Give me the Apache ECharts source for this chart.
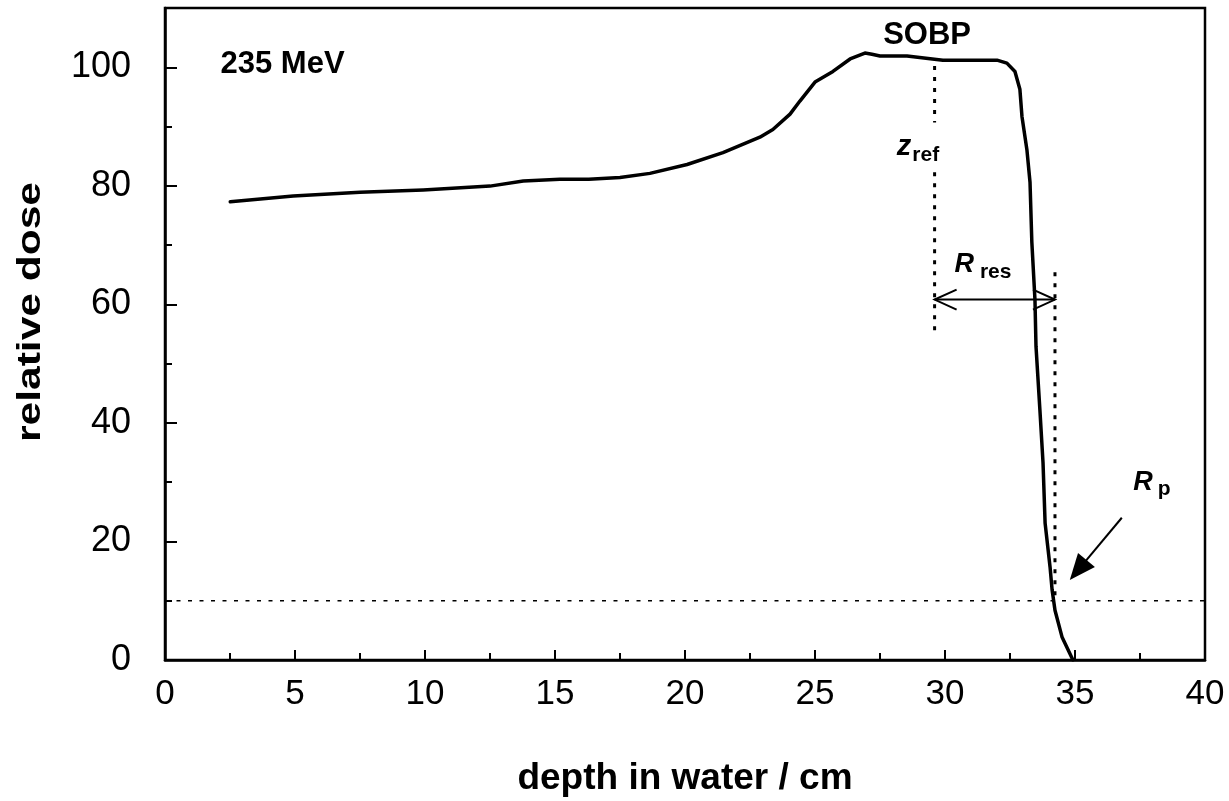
<!DOCTYPE html>
<html>
<head>
<meta charset="utf-8">
<script src="https://cdn.jsdelivr.net/npm/echarts@6/dist/echarts.min.js"></script>
<style>
html,body{margin:0;padding:0;background:#fff;}
#chart{width:1229px;height:801px;}
</style>
</head>
<body>
<div id="chart"></div>
<script>
// depth-dose curve (depth in cm, relative dose)
const depth = [2.51, 4.93, 7.5, 9.93, 12.5, 13.78, 15.19, 16.3, 17.5, 18.65, 20.08, 21.46, 22.88, 23.38, 24.04, 24.42, 25.0, 25.69, 26.35, 26.92, 27.19, 27.5, 28.54, 29.92, 32.0, 32.38, 32.69, 32.88, 32.96, 33.15, 33.27, 33.34, 33.46, 33.5, 33.65, 33.77, 33.85, 34.04, 34.12, 34.23, 34.5, 34.92];
const dose = [77.3, 78.3, 78.9, 79.3, 79.95, 80.8, 81.1, 81.1, 81.4, 82.1, 83.6, 85.6, 88.2, 89.5, 92.1, 94.3, 97.5, 99.3, 101.4, 102.4, 102.2, 101.9, 101.9, 101.2, 101.2, 100.7, 99.3, 96.3, 91.7, 86.1, 80.6, 70.5, 60.8, 52.9, 42.2, 33.3, 23.1, 15.7, 11.8, 8.4, 3.9, 0];

// reference lines (data coordinates)
const threshold = [[0, 10], [40, 10]];
const zrefUpper = [[29.6, 100.2], [29.6, 90.7]];
const zrefLower = [[29.6, 82.3], [29.6, 55.2]];
const rpDrop = [[34.23, 65.4], [34.23, 10]];
// arrows: x1, y1, x2, y2, kind (0 = double open, 1 = single filled)
const arrows = [[29.6, 60.8, 34.23, 60.8, 0], [36.8, 24.0, 34.8, 13.5, 1]];
// text annotations: x, y, rich text
const labelX = [4.52, 29.31, 28.96, 31.46, 37.96];
const labelY = [100.4, 105.4, 86.6, 66.8, 30.0];
const labelText = ['{b|235 MeV}', '{b|SOBP}', '{i|z}{s|ref}', '{I|R}{s2|res}', '{I|R}{s3|p}'];

const FONT = '"Liberation Sans", Arial, Helvetica, sans-serif';

const chart = echarts.init(document.getElementById('chart'), null, {renderer: 'canvas'});

const curve = depth.map((d, i) => [d, dose[i]]);
const labelData = labelX.map((x, i) => ({value: [x, labelY[i]], label: {formatter: labelText[i]}}));

function renderArrow(params, api) {
  const p1 = api.coord([api.value(0), api.value(1)]);
  const p2 = api.coord([api.value(2), api.value(3)]);
  const kind = api.value(4);
  const dx = p2[0] - p1[0], dy = p2[1] - p1[1];
  const len = Math.sqrt(dx * dx + dy * dy);
  const ux = dx / len, uy = dy / len;
  function head(tip, dirx, diry, L, W) {
    const bx = tip[0] - dirx * L, by = tip[1] - diry * L;
    return [[bx - diry * W, by + dirx * W], [tip[0], tip[1]], [bx + diry * W, by - dirx * W]];
  }
  const children = [];
  if (kind === 0) {
    children.push({type: 'line', shape: {x1: p1[0], y1: p1[1], x2: p2[0], y2: p2[1]}, style: {stroke: '#000', lineWidth: 2}});
    children.push({type: 'polyline', shape: {points: head(p2, ux, uy, 22, 10)}, style: {stroke: '#000', lineWidth: 2, fill: null}});
    children.push({type: 'polyline', shape: {points: head(p1, -ux, -uy, 22, 10)}, style: {stroke: '#000', lineWidth: 2, fill: null}});
  } else {
    const L = 26;
    children.push({type: 'line', shape: {x1: p1[0], y1: p1[1], x2: p2[0] - ux * (L - 4), y2: p2[1] - uy * (L - 4)}, style: {stroke: '#000', lineWidth: 2}});
    children.push({type: 'polygon', shape: {points: head(p2, ux, uy, L, 11)}, style: {fill: '#000'}});
  }
  return {type: 'group', children: children};
}

const option = {
  animation: false,
  backgroundColor: '#fff',
  grid: {left: 165, right: 24, top: 8, bottom: 141, show: true, borderColor: '#000', borderWidth: 2.5, backgroundColor: 'transparent', outerBoundsMode: 'none', containLabel: false},
  graphic: [{
    type: 'text', x: 31, y: 312, rotation: Math.PI / 2, scaleX: 1.25, scaleY: 0.95,
    style: {text: 'relative dose', fontFamily: FONT, fontSize: 34, fontWeight: 'bold', fill: '#000', align: 'center', verticalAlign: 'middle'}
  }],
  xAxis: {
    type: 'value', min: 0, max: 40, interval: 5,
    name: 'depth in water / cm', nameLocation: 'middle', nameGap: 100,
    nameTextStyle: {fontFamily: FONT, fontSize: 37, fontWeight: 'bold', color: '#000'},
    axisLine: {show: true, lineStyle: {color: '#000', width: 2.5}},
    axisTick: {show: true, inside: true, length: 10, lineStyle: {color: '#000', width: 2}},
    minorTick: {show: true, splitNumber: 2, length: 7, lineStyle: {color: '#000', width: 2}},
    axisLabel: {fontFamily: FONT, fontSize: 35, color: '#000', margin: 17},
    splitLine: {show: false}
  },
  yAxis: [{
    type: 'value', min: 0, max: 110, interval: 20,
    axisLine: {show: true, lineStyle: {color: '#000', width: 2.5}},
    axisTick: {show: true, inside: true, length: 12, lineStyle: {color: '#000', width: 2}},
    axisLabel: {fontFamily: FONT, fontSize: 36, color: '#000', margin: 34, showMaxLabel: false},
    splitLine: {show: false}
  }, {
    type: 'value', min: 0, max: 110, interval: 10, position: 'left',
    axisLine: {show: false},
    axisTick: {show: true, inside: true, length: 7, lineStyle: {color: '#000', width: 2}},
    axisLabel: {show: false},
    splitLine: {show: false}
  }],
  series: [
    {type: 'line', data: threshold, showSymbol: false, symbol: 'none', lineStyle: {color: '#000', width: 1.5, type: [4, 7.5]}, z: 2},
    {type: 'line', data: zrefUpper, showSymbol: false, symbol: 'none', lineStyle: {color: '#000', width: 3, type: [4, 7]}, z: 2},
    {type: 'line', data: zrefLower, showSymbol: false, symbol: 'none', lineStyle: {color: '#000', width: 3, type: [4, 7]}, z: 2},
    {type: 'line', data: rpDrop, showSymbol: false, symbol: 'none', lineStyle: {color: '#000', width: 3, type: [4, 7]}, z: 2},
    {type: 'line', data: curve, showSymbol: false, symbol: 'none', smooth: false, lineStyle: {color: '#000', width: 3.5, join: 'round', cap: 'round'}, z: 3},
    {type: 'custom', data: arrows, renderItem: renderArrow, encode: {x: [0, 2], y: [1, 3]}, z: 4, silent: true},
    {type: 'scatter', data: labelData, symbolSize: 0, z: 5, silent: true,
      itemStyle: {opacity: 1, color: '#000'},
      label: {show: true, position: 'inside', align: 'center', verticalAlign: 'middle', color: '#000', opacity: 1,
        rich: {
          b: {fontFamily: FONT, fontSize: 31, fontWeight: 'bold', color: '#000'},
          i: {fontFamily: FONT, fontSize: 29, fontWeight: 'bold', fontStyle: 'italic', color: '#000'},
          I: {fontFamily: FONT, fontSize: 27, fontWeight: 'bold', fontStyle: 'italic', color: '#000'},
          s: {fontFamily: FONT, fontSize: 21, fontWeight: 'bold', color: '#000', padding: [17, 0, 0, 1]},
          s2: {fontFamily: FONT, fontSize: 21, fontWeight: 'bold', color: '#000', padding: [17, 0, 0, 6]},
          s3: {fontFamily: FONT, fontSize: 21, fontWeight: 'bold', color: '#000', padding: [15, 0, 0, 5]}
        }
      }
    }
  ]
};
chart.setOption(option);
</script>
</body>
</html>
